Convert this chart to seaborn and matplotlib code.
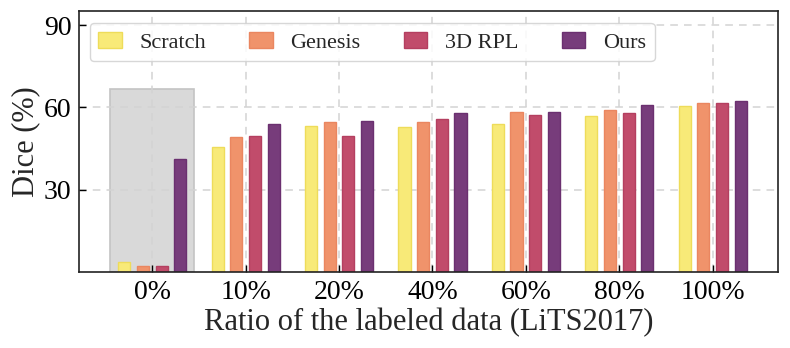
import numpy as np
import pandas as pd
import matplotlib
matplotlib.use("Agg")
import matplotlib.pyplot as plt
import seaborn as sns

ratios = ["0%", "10%", "20%", "40%", "60%", "80%", "100%"]
methods = ["Scratch", "Genesis", "3D RPL", "Ours"]
scratch = [3.5, 45.6, 53.2, 52.9, 53.8, 56.8, 60.4]
genesis = [2.2, 49.2, 54.6, 54.5, 58.2, 59.0, 61.7]
rpl3d = [2.2, 49.5, 49.6, 55.8, 57.2, 57.9, 61.6]
ours = [41.1, 53.9, 55.1, 58.0, 58.3, 60.8, 62.2]
colors = ["#F8EA78", "#F0936B", "#C14C6B", "#773C7B"]
edge_colors = ["#EEDC5A", "#EA8660", "#B43F60", "#6B3070"]
highlight_height = 66.8
highlight_width = 0.9
yticks = [30, 60, 90]

df = pd.DataFrame({
    "ratio": ratios * 4,
    "dice": scratch + genesis + rpl3d + ours,
    "method": sum([[m] * len(ratios) for m in methods], []),
})

sns.set_style("ticks")
plt.rcParams["font.family"] = ["Liberation Serif", "DejaVu Serif"]

fig = plt.figure(figsize=(7.9, 3.48), dpi=100)
ax = fig.add_axes([0.0994, 0.2193, 0.8854, 0.75])

sns.barplot(data=df, x="ratio", y="dice", hue="method", order=ratios,
            hue_order=methods, palette=colors, width=0.8, gap=0.35,
            linewidth=1.0, saturation=1, legend=False, ax=ax)

for cont, ec, m in zip(ax.containers, edge_colors, methods):
    cont.set_label(m)
    for p in cont.patches:
        p.set_edgecolor(ec)
        p.set_zorder(2)

ax.bar([0], [highlight_height], width=highlight_width, color="#D9D9D9",
       edgecolor="#C4C4C4", linewidth=1.2, zorder=0.3)

ax.set_axisbelow(True)
ax.grid(True, linestyle=(0, (5, 4)), color="#D3D3D3", linewidth=1.1)
ax.set_xlim(-0.79, 6.7)
ax.set_ylim(0, 95.3)
ax.set_yticks(yticks)
ax.tick_params(direction="in", labelsize=20, length=5, width=1.0, colors="black")
ax.tick_params(axis="x", pad=6)
ax.tick_params(axis="y", pad=5)
for s in ax.spines.values():
    s.set_color("#222222")
    s.set_linewidth(1.2)

ax.set_xlabel("Ratio of the labeled data (LiTS2017)", fontsize=22, labelpad=2)
ax.set_ylabel("Dice (%)", fontsize=22, labelpad=3)

handles = [c for c in ax.containers]
leg = ax.legend(handles=handles, labels=methods, ncol=4, loc="upper left",
                bbox_to_anchor=(0.0157, 0.954), borderaxespad=0, fontsize=16,
                handlelength=1.05, handleheight=0.77, handletextpad=0.8,
                columnspacing=1.95, frameon=True, fancybox=True,
                edgecolor="#D0D0D0", framealpha=0.85)

fig.savefig("out.png", dpi=100)
